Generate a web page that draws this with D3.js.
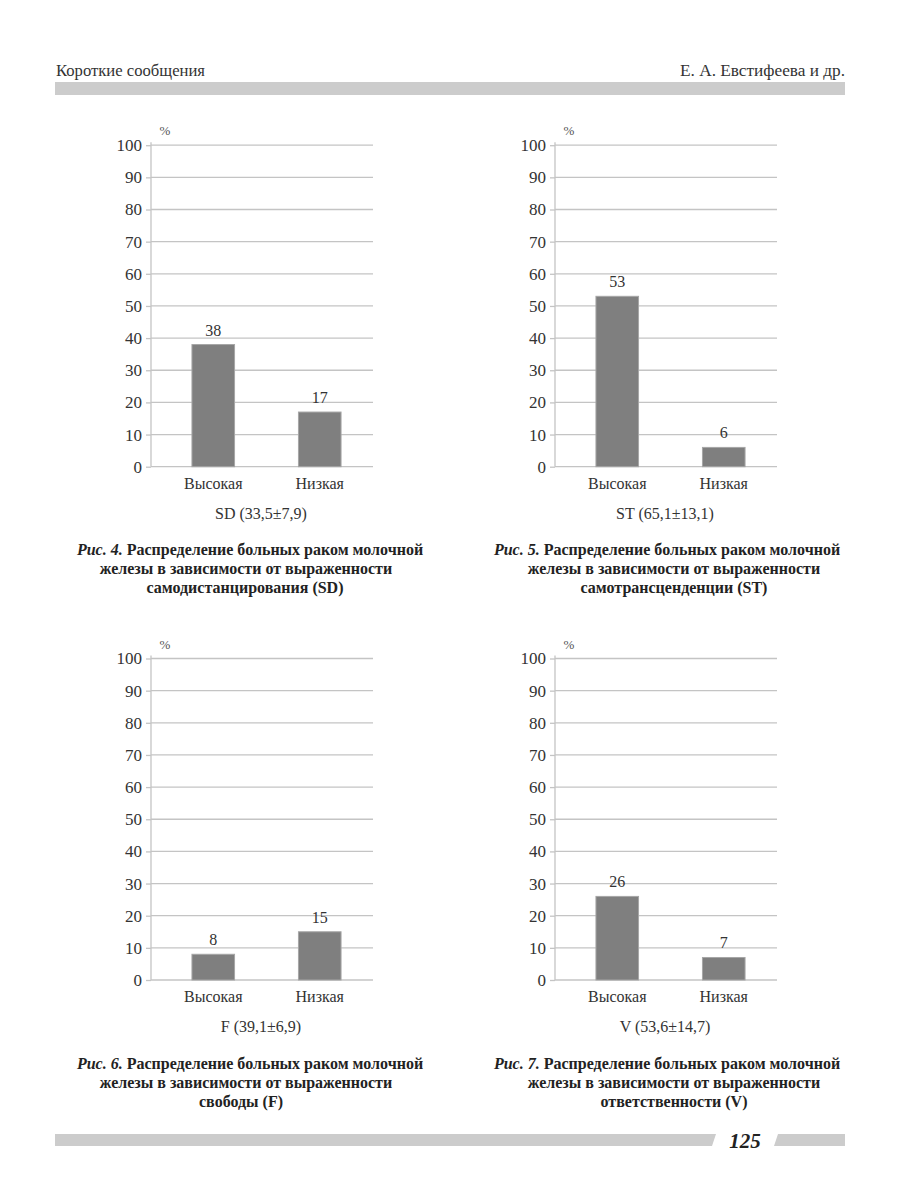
<!DOCTYPE html>
<html><head><meta charset="utf-8">
<script src="https://cdn.jsdelivr.net/npm/d3@7"></script>
<style>body{margin:0;background:#fff}svg{display:block}svg text{font-family:"Liberation Serif","DejaVu Serif",serif}</style>
</head><body><svg id="c" width="900" height="1200"></svg>
<script>
const categories = ["Высокая", "Низкая"];
const yTicks = [0,10,20,30,40,50,60,70,80,90,100];
const valuesSD = [38, 17];
const valuesST = [53, 6];
const valuesF = [8, 15];
const valuesV = [26, 7];
const subtitles = ["SD (33,5±7,9)", "ST (65,1±13,1)", "F (39,1±6,9)", "V (53,6±14,7)"];
const figNums = ["Рис. 4.", "Рис. 5.", "Рис. 6.", "Рис. 7."];
const captionLine1 = " Распределение больных раком молочной";
const captionLine2 = "железы в зависимости от выраженности";
const captionLine3 = ["самодистанцирования (SD)", "самотрансценденции (ST)", "свободы (F)", "ответственности (V)"];
const headerLeft = "Короткие сообщения";
const headerRight = "Е. А. Евстифеева и др.";
const pageNumber = "125";

const svg = d3.select("#c");

// header
svg.append("text").attr("x",56).attr("y",76).attr("font-size",16)
  .attr("fill","#333").attr("textLength",149).attr("lengthAdjust","spacingAndGlyphs").text(headerLeft);
svg.append("text").attr("x",845).attr("y",76).attr("text-anchor","end").attr("font-size",16)
  .attr("fill","#333").attr("textLength",165).attr("lengthAdjust","spacingAndGlyphs").text(headerRight);
svg.append("rect").attr("x",55).attr("y",82).attr("width",790).attr("height",13).attr("fill","#cccccc");

// footer
svg.append("path").attr("d","M55,1134 L716,1134 L712,1146 L55,1146 Z").attr("fill","#cccccc");
svg.append("path").attr("d","M778,1134 L845,1134 L845,1146 L774,1146 Z").attr("fill","#cccccc");
svg.append("text").attr("x",745).attr("y",1148).attr("text-anchor","middle")
  .attr("font-size",21).attr("font-weight","bold").attr("font-style","italic").attr("fill","#222").text(pageNumber);

const charts = [
  {vals: valuesSD, ox:151, y0:466.7, sub:subtitles[0], fig:figNums[0], l3:captionLine3[0], cap:[550,569,588], cx:[250,246,245]},
  {vals: valuesST, ox:555, y0:466.7, sub:subtitles[1], fig:figNums[1], l3:captionLine3[1], cap:[550,569,588], cx:[667,674,674]},
  {vals: valuesF,  ox:151, y0:980,   sub:subtitles[2], fig:figNums[2], l3:captionLine3[2], cap:[1064,1083,1102], cx:[250,246,241]},
  {vals: valuesV,  ox:555, y0:980,   sub:subtitles[3], fig:figNums[3], l3:captionLine3[3], cap:[1064,1083,1102], cx:[667,674,674]}
];

const plotW = 222, plotH = 321.5;

charts.forEach(c => {
  const g = svg.append("g").attr("transform", `translate(${c.ox},${c.y0 - plotH})`);
  const y = d3.scaleLinear().domain([0,100]).range([plotH,0]);
  const x = d3.scaleBand().domain(categories).range([9, plotW]).paddingInner(0.6).paddingOuter(0.3);

  g.selectAll("line.grid").data(yTicks).join("line").attr("class","grid")
    .attr("x1",0).attr("x2",plotW).attr("y1",d=>y(d)).attr("y2",d=>y(d))
    .attr("stroke","#c4c4c4").attr("stroke-width",1.3);

  const ax = g.append("g").call(d3.axisLeft(y).tickValues(yTicks).tickSize(5).tickPadding(4));
  ax.attr("font-family",null);
  ax.select(".domain").attr("stroke","#c4c4c4").attr("stroke-width",1.3).attr("d",`M-0,${y(100)-3}V${plotH}`);
  ax.selectAll(".tick line").attr("stroke","#c4c4c4").attr("stroke-width",1.3);
  ax.selectAll(".tick text").attr("font-size",17).attr("fill","#333");

  g.append("text").attr("x",14).attr("y",y(100)-10).attr("text-anchor","middle")
    .attr("font-size",13).attr("fill","#555").text("%");

  g.selectAll("rect.bar").data(c.vals).join("rect").attr("class","bar")
    .attr("x",(d,i)=>x(categories[i])).attr("width",x.bandwidth())
    .attr("y",d=>y(d)).attr("height",d=>plotH-y(d))
    .attr("fill","#7f7f7f").attr("stroke","#a6a6a6").attr("stroke-width",1);

  g.selectAll("text.val").data(c.vals).join("text").attr("class","val")
    .attr("x",(d,i)=>x(categories[i])+x.bandwidth()/2).attr("y",d=>y(d)-9)
    .attr("text-anchor","middle").attr("font-size",16).attr("fill","#333").text(d=>d);

  g.selectAll("text.cat").data(categories).join("text").attr("class","cat")
    .attr("x",d=>x(d)+x.bandwidth()/2).attr("y",plotH+22)
    .attr("text-anchor","middle").attr("font-size",16).attr("fill","#333").text(d=>d);

  g.append("text").attr("x",110).attr("y",plotH+52).attr("text-anchor","middle")
    .attr("font-size",16).attr("fill","#333").text(c.sub);

  const t1 = svg.append("text").attr("x",c.cx[0]).attr("y",c.cap[0]+5).attr("text-anchor","middle")
    .attr("font-size",16).attr("font-weight","bold").attr("fill","#222");
  t1.append("tspan").attr("font-style","italic").text(c.fig);
  t1.append("tspan").text(captionLine1);
  svg.append("text").attr("x",c.cx[1]).attr("y",c.cap[1]+5).attr("text-anchor","middle")
    .attr("font-size",16).attr("font-weight","bold").attr("fill","#222").text(captionLine2);
  svg.append("text").attr("x",c.cx[2]).attr("y",c.cap[2]+5).attr("text-anchor","middle")
    .attr("font-size",16).attr("font-weight","bold").attr("fill","#222").text(c.l3);
});
</script></body></html>
